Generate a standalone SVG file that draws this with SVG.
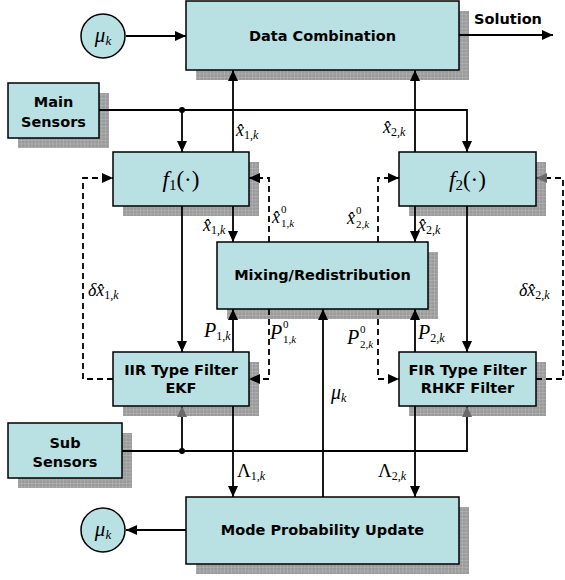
<svg xmlns="http://www.w3.org/2000/svg" width="565" height="580" viewBox="0 0 565 580">
<style>
.box{fill:#b9e0e3;stroke:#000;stroke-width:1.5}
.sh{fill:url(#grid)}
.lbl{font-family:"DejaVu Sans",sans-serif;font-weight:bold;font-size:14.5px;fill:#000;text-anchor:middle}
.m{font-family:"Liberation Serif",serif;fill:#000}
.i{font-style:italic}
.ln{fill:none;stroke:#000;stroke-width:1.8}
.ar{marker-end:url(#arr)}
.dash{stroke-dasharray:6 4}
</style>
<defs>
<pattern id="grid" width="3.5" height="3.5" patternUnits="userSpaceOnUse">
<rect width="3.5" height="3.5" fill="#9a9a9a"/>
<path d="M0 0H3.5M0 0V3.5" stroke="#c6c6c6" stroke-width="0.7"/>
</pattern>
<marker id="arr" markerUnits="userSpaceOnUse" markerWidth="11" markerHeight="10" refX="11" refY="5" orient="auto">
<path d="M0 0L11 5L0 10z" fill="#000"/>
</marker>
<marker id="arrG" markerUnits="userSpaceOnUse" markerWidth="11" markerHeight="10" refX="11" refY="5" orient="auto">
<path d="M0 0L11 5L0 10z" fill="#6a6a6a"/>
</marker>
</defs>

<g id="data-combination">
<rect class="sh" x="196" y="11" width="273" height="69"/>
<rect class="box" x="186" y="1" width="273" height="69"/>
<text class="lbl" x="322.5" y="41">Data Combination</text>
</g>
<g id="mu-top">
<circle class="box" cx="103" cy="36" r="22"/>
<text class="m" x="103" y="42" text-anchor="middle" font-size="21"><tspan class="i">μ</tspan><tspan class="i" font-size="13" dy="3">k</tspan></text>
</g>
<g id="solution">
<text class="lbl" x="508" y="24">Solution</text>
</g>
<g id="main-sensors">
<rect class="sh" x="18" y="93" width="91" height="55"/>
<rect class="box" x="8" y="83" width="91" height="55"/>
<text class="lbl" x="53.5" y="107">Main</text>
<text class="lbl" x="53.5" y="127">Sensors</text>
</g>
<g id="f1">
<rect class="sh" x="123" y="162" width="136" height="54"/>
<rect class="box" x="113" y="152" width="136" height="54"/>
<text class="m" x="181" y="187" text-anchor="middle" font-size="23"><tspan class="i">f</tspan><tspan font-size="15" dy="3">1</tspan><tspan dy="-3">(·)</tspan></text>
</g>
<g id="f2">
<rect class="sh" x="409" y="162" width="137" height="54"/>
<rect class="box" x="399" y="152" width="137" height="54"/>
<text class="m" x="467.5" y="187" text-anchor="middle" font-size="23"><tspan class="i">f</tspan><tspan font-size="15" dy="3">2</tspan><tspan dy="-3">(·)</tspan></text>
</g>
<g id="mixing">
<rect class="sh" x="227" y="252" width="211" height="67"/>
<rect class="box" x="217" y="242" width="211" height="67"/>
<text class="lbl" x="322.5" y="280">Mixing/Redistribution</text>
</g>
<g id="iir">
<rect class="sh" x="123" y="362" width="136" height="54"/>
<rect class="box" x="113" y="352" width="136" height="54"/>
<text class="lbl" x="181" y="375">IIR Type Filter</text>
<text class="lbl" x="181" y="393">EKF</text>
</g>
<g id="fir">
<rect class="sh" x="409" y="362" width="137" height="54"/>
<rect class="box" x="399" y="352" width="137" height="54"/>
<text class="lbl" x="467.5" y="375">FIR Type Filter</text>
<text class="lbl" x="467.5" y="393">RHKF Filter</text>
</g>
<g id="sub-sensors">
<rect class="sh" x="18" y="433" width="114" height="55"/>
<rect class="box" x="8" y="423" width="114" height="55"/>
<text class="lbl" x="65" y="448">Sub</text>
<text class="lbl" x="65" y="467">Sensors</text>
</g>
<g id="mode-probability">
<rect class="sh" x="196" y="507" width="273" height="67"/>
<rect class="box" x="186" y="497" width="273" height="67"/>
<text class="lbl" x="322.5" y="535">Mode Probability Update</text>
</g>
<g id="mu-bottom">
<circle class="box" cx="103" cy="530" r="22"/>
<text class="m" x="103" y="536" text-anchor="middle" font-size="21"><tspan class="i">μ</tspan><tspan class="i" font-size="13" dy="3">k</tspan></text>
</g>

<g id="connectors">
<path class="ln ar" d="M126 36H186"/>
<path class="ln ar" d="M459 35H553"/>
<path class="ln ar" d="M99 110H467V152"/>
<path class="ln ar" d="M182 110V152"/>
<circle cx="182" cy="110" r="3" fill="#000"/>
<path class="ln ar" d="M233 152V70"/>
<path class="ln ar" d="M233 206V242"/>
<path class="ln ar" d="M182 206V352"/>
<path class="ln ar" d="M415 152V70"/>
<path class="ln ar" d="M415 206V242"/>
<path class="ln ar" d="M467 206V352"/>
<path class="ln ar" d="M233 352V309"/>
<path class="ln ar" d="M415 352V309"/>
<path class="ln ar" d="M323 497V309"/>
<path class="ln ar" d="M233 406V497"/>
<path class="ln ar" d="M415 406V497"/>
<path class="ln" d="M122 451H467V406" marker-end="url(#arrG)"/>
<path class="ln" d="M182 451V406" marker-end="url(#arrG)"/>
<circle cx="182" cy="451" r="3" fill="#000"/>
<path class="ln ar" d="M186 530H126"/>
<path class="ln dash ar" d="M113 379H83V178H113"/>
<path class="ln dash ar" d="M269 242V178H249"/>
<path class="ln dash ar" d="M269 309V379H249"/>
<path class="ln dash ar" d="M378 242V178H399"/>
<path class="ln dash ar" d="M378 309V379H399"/>
<path class="ln dash" d="M536 379H563V178H536" marker-end="url(#arrG)"/>
</g>

<g id="labels" font-size="18">
<text class="m" x="236" y="136"><tspan class="i">x̂</tspan><tspan font-size="12" dy="3">1,</tspan><tspan font-size="12" class="i">k</tspan></text>
<text class="m" x="383" y="133"><tspan class="i">x̂</tspan><tspan font-size="12" dy="3">2,</tspan><tspan font-size="12" class="i">k</tspan></text>
<text class="m" x="203" y="231"><tspan class="i">x̂</tspan><tspan font-size="12" dy="3">1,</tspan><tspan font-size="12" class="i">k</tspan></text>
<text class="m" x="418" y="231"><tspan class="i">x̂</tspan><tspan font-size="12" dy="3">2,</tspan><tspan font-size="12" class="i">k</tspan></text>
<text class="m" x="272" y="223"><tspan class="i">x̂</tspan></text>
<text class="m" x="281" y="213" font-size="11">0</text>
<text class="m" x="281" y="227" font-size="11">1,<tspan class="i">k</tspan></text>
<text class="m" x="347" y="224"><tspan class="i">x̂</tspan></text>
<text class="m" x="356" y="214" font-size="11">0</text>
<text class="m" x="356" y="228" font-size="11">2,<tspan class="i">k</tspan></text>
<text class="m" x="88" y="296"><tspan class="i">δx̂</tspan><tspan font-size="12" dy="3">1,</tspan><tspan font-size="12" class="i">k</tspan></text>
<text class="m" x="519" y="296"><tspan class="i">δx̂</tspan><tspan font-size="12" dy="3">2,</tspan><tspan font-size="12" class="i">k</tspan></text>
<text class="m" x="204" y="337" font-size="20"><tspan class="i">P</tspan><tspan font-size="12" dy="3">1,</tspan><tspan font-size="12" class="i">k</tspan></text>
<text class="m" x="270" y="339" font-size="20"><tspan class="i">P</tspan></text>
<text class="m" x="283" y="328" font-size="11">0</text>
<text class="m" x="283" y="343" font-size="11">1,<tspan class="i">k</tspan></text>
<text class="m" x="347" y="344" font-size="20"><tspan class="i">P</tspan></text>
<text class="m" x="360" y="333" font-size="11">0</text>
<text class="m" x="360" y="348" font-size="11">2,<tspan class="i">k</tspan></text>
<text class="m" x="418" y="339" font-size="20"><tspan class="i">P</tspan><tspan font-size="12" dy="3">2,</tspan><tspan font-size="12" class="i">k</tspan></text>
<text class="m" x="331" y="399" font-size="20"><tspan class="i">μ</tspan><tspan font-size="12" class="i" dy="3">k</tspan></text>
<text class="m" x="237" y="477" font-size="19"><tspan>Λ</tspan><tspan font-size="12" dy="3">1,</tspan><tspan font-size="12" class="i">k</tspan></text>
<text class="m" x="378" y="477" font-size="19"><tspan>Λ</tspan><tspan font-size="12" dy="3">2,</tspan><tspan font-size="12" class="i">k</tspan></text>
</g>
</svg>
